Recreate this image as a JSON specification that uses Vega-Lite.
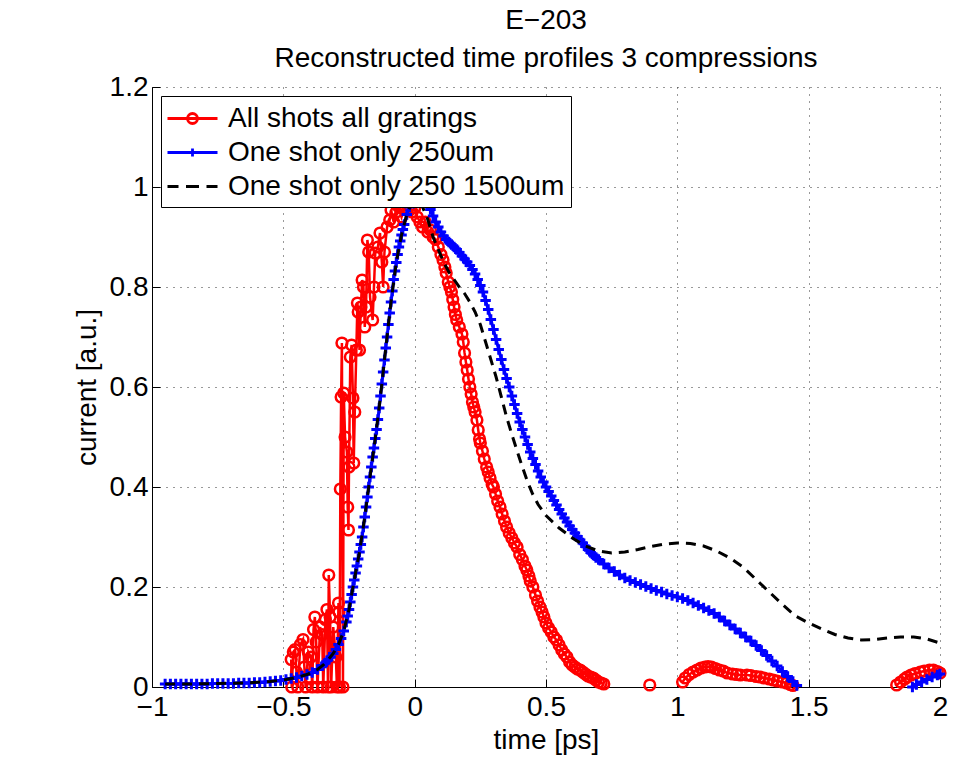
{
  "$schema": "https://vega.github.io/schema/vega-lite/v6.json",
  "width": 788,
  "height": 600,
  "autosize": {"type": "none"},
  "padding": {"left": 152, "top": 87, "right": 24, "bottom": 74},
  "background": "white",
  "title": {
    "text": ["E−203", "Reconstructed time profiles 3 compressions"],
    "font": "Liberation Sans",
    "fontSize": 28,
    "fontWeight": "normal",
    "color": "black",
    "anchor": "middle",
    "lineHeight": 38,
    "offset": 0
  },
  "config": {
    "view": {"stroke": null},
    "axis": {
      "domainColor": "black",
      "domainWidth": 1,
      "tickColor": "black",
      "tickSize": -8,
      "gridColor": "#333333",
      "gridDash": [1, 6],
      "gridWidth": 1,
      "labelFont": "Liberation Sans",
      "labelFontSize": 28,
      "labelColor": "black",
      "titleFont": "Liberation Sans",
      "titleFontSize": 28,
      "titleFontWeight": "normal",
      "titleColor": "black"
    }
  },
  "datasets": {
    "red": [
      {"g":1,"x":-0.47,"y":0.055},{"g":1,"x":-0.468,"y":0.0},{"g":1,"x":-0.462,"y":0.07},{"g":1,"x":-0.455,"y":0.075},{"g":1,"x":-0.45,"y":0.03},{"g":1,"x":-0.445,"y":0.0},
      {"g":1,"x":-0.435,"y":0.085},{"g":1,"x":-0.425,"y":0.095},{"g":1,"x":-0.42,"y":0.04},{"g":1,"x":-0.415,"y":0.0},{"g":1,"x":-0.405,"y":0.07},{"g":1,"x":-0.395,"y":0.06},
      {"g":1,"x":-0.39,"y":0.0},{"g":1,"x":-0.385,"y":0.115},{"g":1,"x":-0.38,"y":0.14},{"g":1,"x":-0.375,"y":0.09},{"g":1,"x":-0.37,"y":0.0},{"g":1,"x":-0.36,"y":0.12},
      {"g":1,"x":-0.352,"y":0.105},{"g":1,"x":-0.348,"y":0.0},{"g":1,"x":-0.34,"y":0.135},{"g":1,"x":-0.334,"y":0.155},{"g":1,"x":-0.33,"y":0.0},{"g":1,"x":-0.327,"y":0.224},
      {"g":1,"x":-0.322,"y":0.14},{"g":1,"x":-0.318,"y":0.0},{"g":1,"x":-0.31,"y":0.12},{"g":1,"x":-0.3,"y":0.06},{"g":1,"x":-0.296,"y":0.0},{"g":1,"x":-0.29,"y":0.168},
      {"g":1,"x":-0.288,"y":0.15},{"g":1,"x":-0.286,"y":0.0},{"g":1,"x":-0.283,"y":0.396},{"g":1,"x":-0.28,"y":0.58},{"g":1,"x":-0.277,"y":0.688},{"g":1,"x":-0.273,"y":0.0},
      {"g":1,"x":-0.27,"y":0.588},{"g":1,"x":-0.265,"y":0.5},{"g":1,"x":-0.258,"y":0.47},{"g":1,"x":-0.255,"y":0.36},{"g":1,"x":-0.252,"y":0.314},{"g":1,"x":-0.25,"y":0.44},
      {"g":1,"x":-0.245,"y":0.66},{"g":1,"x":-0.24,"y":0.684},{"g":1,"x":-0.235,"y":0.578},{"g":1,"x":-0.232,"y":0.448},{"g":1,"x":-0.228,"y":0.55},{"g":1,"x":-0.222,"y":0.674},
      {"g":1,"x":-0.218,"y":0.768},{"g":1,"x":-0.215,"y":0.75},{"g":1,"x":-0.21,"y":0.674},{"g":1,"x":-0.205,"y":0.76},{"g":1,"x":-0.2,"y":0.814},{"g":1,"x":-0.195,"y":0.8},
      {"g":1,"x":-0.19,"y":0.72},{"g":1,"x":-0.185,"y":0.76},{"g":1,"x":-0.18,"y":0.894},{"g":1,"x":-0.175,"y":0.87},{"g":1,"x":-0.17,"y":0.78},{"g":1,"x":-0.16,"y":0.734},
      {"g":1,"x":-0.155,"y":0.8},{"g":1,"x":-0.15,"y":0.868},{"g":1,"x":-0.14,"y":0.88},{"g":1,"x":-0.132,"y":0.908},{"g":1,"x":-0.125,"y":0.85},{"g":1,"x":-0.12,"y":0.8},
      {"g":1,"x":-0.115,"y":0.87},{"g":1,"x":-0.105,"y":0.92},{"g":1,"x":-0.095,"y":0.934},{"g":1,"x":-0.09,"y":0.954},{"g":1,"x":-0.08,"y":0.93},{"g":1,"x":-0.07,"y":0.95},
      {"g":1,"x":-0.06,"y":0.96},{"g":1,"x":-0.05,"y":0.94},{"g":1,"x":-0.04,"y":0.955},{"g":1,"x":-0.03,"y":0.965},{"g":1,"x":-0.02,"y":0.962},{"g":1,"x":-0.01,"y":0.95},
      {"g":1,"x":0.0,"y":0.958},{"g":1,"x":0.01,"y":0.94},{"g":1,"x":0.02,"y":0.93},{"g":1,"x":0.03,"y":0.92},{"g":1,"x":0.04,"y":0.93},{"g":1,"x":0.05,"y":0.91},
      {"g":1,"x":0.06,"y":0.914},{"g":1,"x":0.07,"y":0.9},{"g":1,"x":0.08,"y":0.895},{"g":1,"x":0.09,"y":0.88},{"g":1,"x":0.1,"y":0.865},{"g":1,"x":0.108,"y":0.854},
      {"g":1,"x":0.115,"y":0.84},{"g":1,"x":0.12,"y":0.828},{"g":1,"x":0.128,"y":0.81},{"g":1,"x":0.134,"y":0.8},{"g":1,"x":0.14,"y":0.79},{"g":1,"x":0.145,"y":0.775},
      {"g":1,"x":0.15,"y":0.76},{"g":1,"x":0.155,"y":0.745},{"g":1,"x":0.16,"y":0.734},{"g":1,"x":0.17,"y":0.72},{"g":1,"x":0.18,"y":0.706},{"g":1,"x":0.185,"y":0.69},
      {"g":1,"x":0.19,"y":0.668},{"g":1,"x":0.195,"y":0.65},{"g":1,"x":0.2,"y":0.634},{"g":1,"x":0.205,"y":0.616},{"g":1,"x":0.21,"y":0.6},{"g":1,"x":0.215,"y":0.586},
      {"g":1,"x":0.22,"y":0.57},{"g":1,"x":0.225,"y":0.56},{"g":1,"x":0.23,"y":0.55},{"g":1,"x":0.237,"y":0.534},{"g":1,"x":0.242,"y":0.514},{"g":1,"x":0.247,"y":0.496},
      {"g":1,"x":0.25,"y":0.488},{"g":1,"x":0.258,"y":0.472},{"g":1,"x":0.265,"y":0.456},{"g":1,"x":0.274,"y":0.44},{"g":1,"x":0.28,"y":0.43},{"g":1,"x":0.287,"y":0.418},
      {"g":1,"x":0.295,"y":0.405},{"g":1,"x":0.3,"y":0.4},{"g":1,"x":0.308,"y":0.386},{"g":1,"x":0.316,"y":0.372},{"g":1,"x":0.325,"y":0.36},{"g":1,"x":0.333,"y":0.346},
      {"g":1,"x":0.342,"y":0.332},{"g":1,"x":0.35,"y":0.32},{"g":1,"x":0.36,"y":0.308},{"g":1,"x":0.37,"y":0.298},{"g":1,"x":0.38,"y":0.288},{"g":1,"x":0.39,"y":0.28},
      {"g":1,"x":0.4,"y":0.265},{"g":1,"x":0.41,"y":0.255},{"g":1,"x":0.42,"y":0.242},{"g":1,"x":0.427,"y":0.234},{"g":1,"x":0.435,"y":0.222},{"g":1,"x":0.44,"y":0.212},
      {"g":1,"x":0.45,"y":0.2},{"g":1,"x":0.46,"y":0.184},{"g":1,"x":0.468,"y":0.172},{"g":1,"x":0.477,"y":0.16},{"g":1,"x":0.485,"y":0.15},{"g":1,"x":0.492,"y":0.14},
      {"g":1,"x":0.5,"y":0.128},{"g":1,"x":0.51,"y":0.118},{"g":1,"x":0.52,"y":0.11},{"g":1,"x":0.53,"y":0.1},{"g":1,"x":0.54,"y":0.094},{"g":1,"x":0.55,"y":0.084},
      {"g":1,"x":0.56,"y":0.074},{"g":1,"x":0.57,"y":0.066},{"g":1,"x":0.58,"y":0.06},{"g":1,"x":0.59,"y":0.05},{"g":1,"x":0.6,"y":0.044},{"g":1,"x":0.61,"y":0.04},
      {"g":1,"x":0.62,"y":0.036},{"g":1,"x":0.63,"y":0.034},{"g":1,"x":0.64,"y":0.03},{"g":1,"x":0.65,"y":0.026},{"g":1,"x":0.66,"y":0.022},{"g":1,"x":0.67,"y":0.02},
      {"g":1,"x":0.68,"y":0.018},{"g":1,"x":0.69,"y":0.014},{"g":1,"x":0.7,"y":0.01},{"g":1,"x":0.71,"y":0.008},{"g":1,"x":0.72,"y":0.006},
      {"g":2,"x":0.895,"y":0.004},
      {"g":3,"x":1.02,"y":0.01},{"g":3,"x":1.03,"y":0.018},{"g":3,"x":1.045,"y":0.025},{"g":3,"x":1.06,"y":0.03},{"g":3,"x":1.075,"y":0.034},{"g":3,"x":1.09,"y":0.038},
      {"g":3,"x":1.105,"y":0.04},{"g":3,"x":1.117,"y":0.041},{"g":3,"x":1.13,"y":0.04},{"g":3,"x":1.145,"y":0.037},{"g":3,"x":1.16,"y":0.034},{"g":3,"x":1.175,"y":0.032},
      {"g":3,"x":1.19,"y":0.028},{"g":3,"x":1.21,"y":0.026},{"g":3,"x":1.225,"y":0.025},{"g":3,"x":1.24,"y":0.024},{"g":3,"x":1.265,"y":0.024},{"g":3,"x":1.28,"y":0.023},
      {"g":3,"x":1.3,"y":0.021},{"g":3,"x":1.315,"y":0.02},{"g":3,"x":1.33,"y":0.018},{"g":3,"x":1.35,"y":0.016},{"g":3,"x":1.365,"y":0.014},{"g":3,"x":1.38,"y":0.012},
      {"g":3,"x":1.4,"y":0.01},{"g":3,"x":1.416,"y":0.008},{"g":3,"x":1.43,"y":0.005},{"g":3,"x":1.44,"y":0.003},
      {"g":4,"x":1.835,"y":0.004},{"g":4,"x":1.85,"y":0.01},{"g":4,"x":1.865,"y":0.016},{"g":4,"x":1.875,"y":0.02},{"g":4,"x":1.89,"y":0.024},{"g":4,"x":1.905,"y":0.027},
      {"g":4,"x":1.925,"y":0.03},{"g":4,"x":1.94,"y":0.032},{"g":4,"x":1.96,"y":0.034},{"g":4,"x":1.975,"y":0.034},{"g":4,"x":1.99,"y":0.031},{"g":4,"x":2.0,"y":0.028}
    ],
    "blue": [
      {"g":1,"x":-0.95,"y":0.006},{"g":1,"x":-0.93,"y":0.006},{"g":1,"x":-0.91,"y":0.006},{"g":1,"x":-0.89,"y":0.006},{"g":1,"x":-0.87,"y":0.006},{"g":1,"x":-0.85,"y":0.006},
      {"g":1,"x":-0.83,"y":0.006},{"g":1,"x":-0.81,"y":0.006},{"g":1,"x":-0.79,"y":0.006},{"g":1,"x":-0.77,"y":0.007},{"g":1,"x":-0.75,"y":0.007},{"g":1,"x":-0.73,"y":0.007},
      {"g":1,"x":-0.71,"y":0.007},{"g":1,"x":-0.69,"y":0.007},{"g":1,"x":-0.67,"y":0.008},{"g":1,"x":-0.65,"y":0.008},{"g":1,"x":-0.63,"y":0.008},{"g":1,"x":-0.61,"y":0.009},
      {"g":1,"x":-0.59,"y":0.009},{"g":1,"x":-0.57,"y":0.01},{"g":1,"x":-0.55,"y":0.011},{"g":1,"x":-0.53,"y":0.012},{"g":1,"x":-0.51,"y":0.013},{"g":1,"x":-0.49,"y":0.015},
      {"g":1,"x":-0.47,"y":0.017},{"g":1,"x":-0.45,"y":0.019},{"g":1,"x":-0.43,"y":0.022},{"g":1,"x":-0.41,"y":0.025},{"g":1,"x":-0.39,"y":0.029},{"g":1,"x":-0.37,"y":0.035},
      {"g":1,"x":-0.35,"y":0.043},{"g":1,"x":-0.34,"y":0.048},{"g":1,"x":-0.33,"y":0.054},{"g":1,"x":-0.32,"y":0.06},{"g":1,"x":-0.31,"y":0.067},{"g":1,"x":-0.3,"y":0.075},
      {"g":1,"x":-0.29,"y":0.085},{"g":1,"x":-0.28,"y":0.097},{"g":1,"x":-0.27,"y":0.112},{"g":1,"x":-0.26,"y":0.13},{"g":1,"x":-0.255,"y":0.142},{"g":1,"x":-0.25,"y":0.155},
      {"g":1,"x":-0.245,"y":0.17},{"g":1,"x":-0.24,"y":0.185},{"g":1,"x":-0.235,"y":0.2},{"g":1,"x":-0.23,"y":0.214},{"g":1,"x":-0.225,"y":0.228},{"g":1,"x":-0.22,"y":0.242},
      {"g":1,"x":-0.215,"y":0.256},{"g":1,"x":-0.21,"y":0.27},{"g":1,"x":-0.205,"y":0.285},{"g":1,"x":-0.2,"y":0.3},{"g":1,"x":-0.195,"y":0.32},{"g":1,"x":-0.19,"y":0.34},
      {"g":1,"x":-0.185,"y":0.36},{"g":1,"x":-0.18,"y":0.38},{"g":1,"x":-0.175,"y":0.4},{"g":1,"x":-0.17,"y":0.42},{"g":1,"x":-0.165,"y":0.44},{"g":1,"x":-0.16,"y":0.46},
      {"g":1,"x":-0.155,"y":0.478},{"g":1,"x":-0.15,"y":0.497},{"g":1,"x":-0.145,"y":0.515},{"g":1,"x":-0.14,"y":0.535},{"g":1,"x":-0.135,"y":0.558},{"g":1,"x":-0.13,"y":0.582},
      {"g":1,"x":-0.125,"y":0.606},{"g":1,"x":-0.12,"y":0.63},{"g":1,"x":-0.115,"y":0.654},{"g":1,"x":-0.11,"y":0.678},{"g":1,"x":-0.105,"y":0.7},{"g":1,"x":-0.1,"y":0.725},
      {"g":1,"x":-0.095,"y":0.748},{"g":1,"x":-0.09,"y":0.77},{"g":1,"x":-0.085,"y":0.792},{"g":1,"x":-0.08,"y":0.815},{"g":1,"x":-0.075,"y":0.832},{"g":1,"x":-0.07,"y":0.849},
      {"g":1,"x":-0.065,"y":0.865},{"g":1,"x":-0.06,"y":0.88},{"g":1,"x":-0.055,"y":0.892},{"g":1,"x":-0.05,"y":0.904},{"g":1,"x":-0.045,"y":0.915},{"g":1,"x":-0.04,"y":0.925},
      {"g":1,"x":-0.03,"y":0.945},{"g":1,"x":-0.02,"y":0.96},{"g":1,"x":-0.01,"y":0.972},{"g":1,"x":0.0,"y":0.98},{"g":1,"x":0.01,"y":0.985},{"g":1,"x":0.02,"y":0.985},
      {"g":1,"x":0.03,"y":0.982},{"g":1,"x":0.04,"y":0.975},{"g":1,"x":0.05,"y":0.966},{"g":1,"x":0.06,"y":0.955},{"g":1,"x":0.07,"y":0.942},{"g":1,"x":0.08,"y":0.93},
      {"g":1,"x":0.09,"y":0.92},{"g":1,"x":0.1,"y":0.91},{"g":1,"x":0.11,"y":0.902},{"g":1,"x":0.12,"y":0.895},{"g":1,"x":0.13,"y":0.89},{"g":1,"x":0.14,"y":0.885},
      {"g":1,"x":0.15,"y":0.88},{"g":1,"x":0.16,"y":0.875},{"g":1,"x":0.17,"y":0.869},{"g":1,"x":0.18,"y":0.862},{"g":1,"x":0.19,"y":0.856},{"g":1,"x":0.2,"y":0.85},
      {"g":1,"x":0.21,"y":0.843},{"g":1,"x":0.22,"y":0.835},{"g":1,"x":0.23,"y":0.826},{"g":1,"x":0.24,"y":0.815},{"g":1,"x":0.25,"y":0.803},{"g":1,"x":0.26,"y":0.79},
      {"g":1,"x":0.27,"y":0.773},{"g":1,"x":0.28,"y":0.755},{"g":1,"x":0.29,"y":0.735},{"g":1,"x":0.3,"y":0.715},{"g":1,"x":0.31,"y":0.695},{"g":1,"x":0.32,"y":0.675},
      {"g":1,"x":0.33,"y":0.655},{"g":1,"x":0.34,"y":0.635},{"g":1,"x":0.35,"y":0.617},{"g":1,"x":0.36,"y":0.6},{"g":1,"x":0.37,"y":0.582},{"g":1,"x":0.38,"y":0.565},
      {"g":1,"x":0.39,"y":0.547},{"g":1,"x":0.4,"y":0.53},{"g":1,"x":0.41,"y":0.515},{"g":1,"x":0.42,"y":0.5},{"g":1,"x":0.43,"y":0.485},{"g":1,"x":0.44,"y":0.47},
      {"g":1,"x":0.45,"y":0.457},{"g":1,"x":0.46,"y":0.445},{"g":1,"x":0.47,"y":0.432},{"g":1,"x":0.48,"y":0.42},{"g":1,"x":0.49,"y":0.41},{"g":1,"x":0.5,"y":0.4},
      {"g":1,"x":0.51,"y":0.391},{"g":1,"x":0.52,"y":0.382},{"g":1,"x":0.53,"y":0.373},{"g":1,"x":0.54,"y":0.364},{"g":1,"x":0.55,"y":0.355},{"g":1,"x":0.56,"y":0.346},
      {"g":1,"x":0.57,"y":0.338},{"g":1,"x":0.58,"y":0.33},{"g":1,"x":0.59,"y":0.322},{"g":1,"x":0.6,"y":0.315},{"g":1,"x":0.61,"y":0.308},{"g":1,"x":0.62,"y":0.301},
      {"g":1,"x":0.63,"y":0.294},{"g":1,"x":0.64,"y":0.288},{"g":1,"x":0.65,"y":0.281},{"g":1,"x":0.66,"y":0.275},{"g":1,"x":0.67,"y":0.269},{"g":1,"x":0.68,"y":0.264},
      {"g":1,"x":0.69,"y":0.259},{"g":1,"x":0.7,"y":0.255},{"g":1,"x":0.72,"y":0.246},{"g":1,"x":0.74,"y":0.238},
      {"g":1,"x":0.76,"y":0.231},{"g":1,"x":0.78,"y":0.224},{"g":1,"x":0.8,"y":0.218},{"g":1,"x":0.82,"y":0.213},{"g":1,"x":0.84,"y":0.209},{"g":1,"x":0.86,"y":0.205},
      {"g":1,"x":0.88,"y":0.201},{"g":1,"x":0.9,"y":0.197},{"g":1,"x":0.92,"y":0.193},{"g":1,"x":0.94,"y":0.19},{"g":1,"x":0.96,"y":0.186},{"g":1,"x":0.98,"y":0.183},
      {"g":1,"x":1.0,"y":0.18},{"g":1,"x":1.02,"y":0.177},{"g":1,"x":1.04,"y":0.173},{"g":1,"x":1.06,"y":0.168},{"g":1,"x":1.08,"y":0.163},{"g":1,"x":1.1,"y":0.158},
      {"g":1,"x":1.12,"y":0.153},{"g":1,"x":1.14,"y":0.147},{"g":1,"x":1.16,"y":0.14},{"g":1,"x":1.18,"y":0.132},{"g":1,"x":1.2,"y":0.124},{"g":1,"x":1.22,"y":0.116},
      {"g":1,"x":1.24,"y":0.108},{"g":1,"x":1.26,"y":0.1},{"g":1,"x":1.28,"y":0.092},{"g":1,"x":1.3,"y":0.083},{"g":1,"x":1.32,"y":0.073},{"g":1,"x":1.34,"y":0.063},
      {"g":1,"x":1.36,"y":0.052},{"g":1,"x":1.38,"y":0.042},{"g":1,"x":1.4,"y":0.031},{"g":1,"x":1.42,"y":0.021},{"g":1,"x":1.44,"y":0.011},{"g":1,"x":1.455,"y":0.003},
      {"g":2,"x":1.895,"y":0.0},{"g":2,"x":1.91,"y":0.005},{"g":2,"x":1.93,"y":0.01},{"g":2,"x":1.95,"y":0.015},{"g":2,"x":1.97,"y":0.02},{"g":2,"x":1.99,"y":0.024},{"g":2,"x":2.0,"y":0.026}
    ],
    "black": [
      {"x":-0.95,"y":0.006},{"x":-0.85,"y":0.006},{"x":-0.75,"y":0.007},{"x":-0.65,"y":0.008},{"x":-0.55,"y":0.011},{"x":-0.49,"y":0.015},{"x":-0.45,"y":0.019},{"x":-0.41,"y":0.025},
      {"x":-0.37,"y":0.035},{"x":-0.35,"y":0.043},{"x":-0.33,"y":0.054},{"x":-0.31,"y":0.067},{"x":-0.29,"y":0.085},{"x":-0.27,"y":0.112},{"x":-0.25,"y":0.155},{"x":-0.23,"y":0.214},
      {"x":-0.21,"y":0.27},{"x":-0.19,"y":0.34},{"x":-0.17,"y":0.42},{"x":-0.15,"y":0.497},{"x":-0.13,"y":0.582},{"x":-0.11,"y":0.678},{"x":-0.09,"y":0.77},{"x":-0.07,"y":0.849},
      {"x":-0.05,"y":0.904},{"x":-0.03,"y":0.945},{"x":-0.01,"y":0.97},{"x":0.01,"y":0.975},{"x":0.03,"y":0.96},{"x":0.05,"y":0.935},{"x":0.07,"y":0.9},{"x":0.09,"y":0.875},
      {"x":0.11,"y":0.85},{"x":0.13,"y":0.83},{"x":0.15,"y":0.815},{"x":0.17,"y":0.8},{"x":0.19,"y":0.787},{"x":0.21,"y":0.77},{"x":0.23,"y":0.75},{"x":0.25,"y":0.725},
      {"x":0.27,"y":0.69},{"x":0.29,"y":0.655},{"x":0.31,"y":0.62},{"x":0.33,"y":0.58},{"x":0.35,"y":0.54},{"x":0.37,"y":0.505},{"x":0.39,"y":0.472},{"x":0.41,"y":0.44},
      {"x":0.43,"y":0.41},{"x":0.45,"y":0.385},{"x":0.47,"y":0.365},{"x":0.5,"y":0.343},{"x":0.55,"y":0.318},{"x":0.6,"y":0.298},{"x":0.65,"y":0.282},{"x":0.7,"y":0.272},
      {"x":0.75,"y":0.268},{"x":0.8,"y":0.27},{"x":0.85,"y":0.275},{"x":0.9,"y":0.281},{"x":0.95,"y":0.286},{"x":1.0,"y":0.288},{"x":1.05,"y":0.287},{"x":1.1,"y":0.282},
      {"x":1.15,"y":0.272},{"x":1.2,"y":0.258},{"x":1.25,"y":0.24},{"x":1.3,"y":0.215},{"x":1.35,"y":0.19},{"x":1.4,"y":0.165},{"x":1.45,"y":0.142},{"x":1.5,"y":0.128},
      {"x":1.55,"y":0.116},{"x":1.6,"y":0.105},{"x":1.65,"y":0.098},{"x":1.7,"y":0.094},{"x":1.75,"y":0.095},{"x":1.8,"y":0.098},{"x":1.85,"y":0.1},{"x":1.9,"y":0.1},
      {"x":1.95,"y":0.096},{"x":2.0,"y":0.088}
    ]
  },
  "encoding": {
    "x": {
      "field": "x",
      "type": "quantitative",
      "scale": {"domain": [-1, 2], "nice": false, "zero": false},
      "axis": {"title": "time [ps]", "values": [-1, -0.5, 0, 0.5, 1, 1.5, 2], "format": ".2~f", "labelPadding": 14, "titlePadding": 5, "labelFlush": false}
    },
    "y": {
      "field": "y",
      "type": "quantitative",
      "scale": {"domain": [0, 1.2], "nice": false, "zero": false},
      "axis": {"title": "current [a.u.]", "values": [0, 0.2, 0.4, 0.6, 0.8, 1, 1.2], "format": ".2~f", "labelPadding": 12, "titlePadding": 8, "labelFlush": false}
    }
  },
  "layer": [
    {
      "data": {"name": "red"},
      "mark": {"type": "line", "strokeWidth": 2.5},
      "encoding": {
        "detail": {"field": "g", "type": "nominal"},
        "order": {"value": null},
        "color": {
          "datum": "All shots all gratings",
          "type": "nominal",
          "scale": {"domain": ["All shots all gratings", "One shot only 250um", "One shot only 250 1500um"], "range": ["#ff0000", "#0000ff", "#000000"]},
          "legend": {
            "orient": "top-left",
            "offset": 9,
            "title": null,
            "fillColor": "white",
            "strokeColor": "black",
            "padding": 6,
            "cornerRadius": 0,
            "labelFont": "Liberation Sans",
            "labelFontSize": 28,
            "labelColor": "black",
            "labelOffset": 19,
            "labelLimit": 0,
            "symbolSize": 900,
            "symbolOffset": 9,
            "symbolStrokeWidth": 2,
            "rowPadding": 3,
            "encode": {
              "symbols": {
                "update": {
                  "shape": {"signal": "datum.value === 'All shots all gratings' ? 'M-1.667,0H1.667M-0.333,0A0.333,0.333,0,1,0,0.333,0A0.333,0.333,0,1,0,-0.333,0' : datum.value === 'One shot only 250um' ? 'M-1.667,0H1.667M0,-0.267V0.267' : 'M-1.667,0H-0.933M-0.433,0H0.433M0.933,0H1.667'"},
                  "fill": {"value": "transparent"},
                  "strokeWidth": {"value": 2.8}
                }
              }
            }
          }
        }
      }
    },
    {
      "data": {"name": "red"},
      "mark": {"type": "point", "shape": "circle", "filled": false, "color": "#ff0000", "strokeWidth": 2.5, "size": 115, "opacity": 1}
    },
    {
      "data": {"name": "blue"},
      "mark": {"type": "line", "strokeWidth": 3},
      "encoding": {
        "detail": {"field": "g", "type": "nominal"},
        "order": {"value": null},
        "color": {"datum": "One shot only 250um", "type": "nominal"}
      }
    },
    {
      "data": {"name": "blue"},
      "mark": {"type": "point", "shape": "M-1,0H1M0,-1V1", "filled": false, "color": "#0000ff", "strokeWidth": 3, "size": 110, "opacity": 1}
    },
    {
      "data": {"name": "black"},
      "mark": {"type": "line", "strokeWidth": 3, "strokeDash": [10, 7]},
      "encoding": {
        "order": {"value": null},
        "color": {"datum": "One shot only 250 1500um", "type": "nominal"}
      }
    }
  ]
}
